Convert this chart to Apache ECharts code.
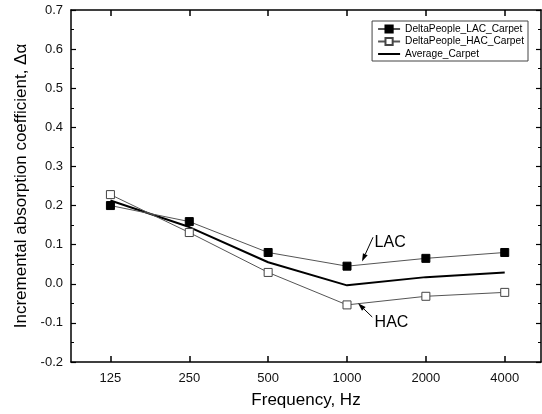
<!DOCTYPE html>
<html>
<head>
<meta charset="utf-8">
<script src="https://cdn.jsdelivr.net/npm/echarts@6/dist/echarts.min.js"></script>
<style>
html,body{margin:0;padding:0;background:#fff;}
#c{width:542px;height:414px;}
</style>
</head>
<body>
<div id="c"></div>
<script>
// ---- data ----
const categories = ['125', '250', '500', '1000', '2000', '4000'];
const lacValues = [0.200, 0.159, 0.080, 0.045, 0.065, 0.080];
const hacValues = [0.228, 0.131, 0.029, -0.054, -0.032, -0.022];
const avgValues = [0.213, 0.145, 0.055, -0.004, 0.017, 0.029];
const yTicks = [-0.2, -0.1, 0.0, 0.1, 0.2, 0.3, 0.4, 0.5, 0.6, 0.7];
const seriesNames = ['DeltaPeople_LAC_Carpet', 'DeltaPeople_HAC_Carpet', 'Average_Carpet'];

// annotations in data space (category index, value)
const annotations = [
  { text: 'LAC', label: [3.35, 0.106], tail: [3.33, 0.119], tip: [3.19, 0.057] },
  { text: 'HAC', label: [3.35, -0.098], tail: [3.32, -0.085], tip: [3.14, -0.050] }
];

const idx = categories.map((_, i) => i);
const toPairs = vals => vals.map((v, i) => [i, v]);
const FONT = '"Liberation Sans", Arial, sans-serif';

const chart = echarts.init(document.getElementById('c'), null, { renderer: 'canvas' });

const xAxisBase = {
  type: 'value',
  min: -0.5,
  max: 5.46,
  splitLine: { show: false },
  axisLine: { show: true, onZero: false, lineStyle: { color: '#000', width: 1.5 } },
  axisTick: { show: true, inside: true, length: 6, customValues: idx, lineStyle: { color: '#000', width: 1.5 } },
};

const yAxisBase = {
  type: 'value',
  min: yTicks[0],
  max: yTicks[yTicks.length - 1],
  interval: 0.1,
  splitLine: { show: false },
  axisLine: { show: true, onZero: false, lineStyle: { color: '#000', width: 1.5 } },
  axisTick: { show: true, inside: true, length: 5, lineStyle: { color: '#000', width: 1.2 } },
  minorTick: { show: true, splitNumber: 2, length: 3, lineStyle: { color: '#000', width: 1 } },
};

chart.setOption({
  animation: false,
  backgroundColor: '#fff',
  grid: { left: 71, right: 1, top: 10, bottom: 51, containLabel: false },
  legend: {
    data: [
      { name: seriesNames[0] },
      { name: seriesNames[1] },
      { name: seriesNames[2], itemStyle: { opacity: 0 } }
    ],
    orient: 'vertical',
    right: 14,
    top: 21,
    padding: [3, 4, 2, 5],
    itemGap: 2.5,
    itemWidth: 22,
    itemHeight: 9,
    borderColor: '#444',
    borderWidth: 1,
    borderRadius: 0,
    backgroundColor: '#fff',
    textStyle: { fontFamily: FONT, fontSize: 10.2, color: '#000' }
  },
  xAxis: [
    Object.assign({}, xAxisBase, {
      position: 'bottom',
      name: 'Frequency, Hz',
      nameLocation: 'middle',
      nameGap: 30,
      nameTextStyle: { fontFamily: FONT, fontSize: 17, color: '#000' },
      axisLabel: {
        show: true, customValues: idx, margin: 10,
        fontFamily: FONT, fontSize: 13, color: '#111',
        formatter: v => categories[Math.round(v)]
      }
    }),
    Object.assign({}, xAxisBase, {
      position: 'top',
      axisLabel: { show: false }
    })
  ],
  yAxis: [
    Object.assign({}, yAxisBase, {
      position: 'left',
      name: 'Incremental absorption coefficient, Δα',
      nameLocation: 'middle',
      nameGap: 41,
      nameTextStyle: { fontFamily: FONT, fontSize: 17, color: '#000' },
      axisLabel: {
        show: true, margin: 8, fontFamily: FONT, fontSize: 13, color: '#111',
        formatter: v => v.toFixed(1)
      }
    }),
    Object.assign({}, yAxisBase, {
      position: 'right',
      axisLabel: { show: false }
    })
  ],
  series: [
    {
      name: seriesNames[0],
      type: 'line',
      data: toPairs(lacValues),
      symbol: 'rect',
      symbolSize: 8,
      z: 3,
      lineStyle: { color: '#555', width: 1 },
      itemStyle: { color: '#000', borderColor: '#000', borderWidth: 1 }
    },
    {
      name: seriesNames[1],
      type: 'line',
      data: toPairs(hacValues),
      symbol: 'rect',
      symbolSize: 8,
      z: 3,
      lineStyle: { color: '#555', width: 1 },
      itemStyle: { color: '#fff', borderColor: '#444', borderWidth: 1 }
    },
    {
      name: seriesNames[2],
      type: 'line',
      data: toPairs(avgValues),
      symbol: 'none',
      z: 2,
      lineStyle: { color: '#000', width: 2 },
      itemStyle: { color: '#000' }
    }
  ]
});

// annotations: arrows + labels placed via the axes' own scales
function px(p) { return chart.convertToPixel({ xAxisIndex: 0, yAxisIndex: 0 }, p); }
const graphics = [];
annotations.forEach(a => {
  const t = px(a.tail), h = px(a.tip), l = px(a.label);
  const dx = h[0] - t[0], dy = h[1] - t[1];
  const len = Math.sqrt(dx * dx + dy * dy);
  const ux = dx / len, uy = dy / len;
  const headLen = 8, headW = 2.6;
  const bx = h[0] - ux * headLen, by = h[1] - uy * headLen;
  graphics.push({
    type: 'line', silent: true, z: 10,
    shape: { x1: t[0], y1: t[1], x2: bx, y2: by },
    style: { stroke: '#000', lineWidth: 1 }
  });
  graphics.push({
    type: 'polygon', silent: true, z: 10,
    shape: { points: [[h[0], h[1]], [bx - uy * headW, by + ux * headW], [bx + uy * headW, by - ux * headW]] },
    style: { fill: '#000' }
  });
  graphics.push({
    type: 'text', silent: true, z: 10,
    x: l[0], y: l[1],
    style: { text: a.text, fontFamily: FONT, fontSize: 16, fill: '#000', align: 'left', verticalAlign: 'middle' }
  });
});
chart.setOption({ graphic: graphics });
</script>
</body>
</html>
